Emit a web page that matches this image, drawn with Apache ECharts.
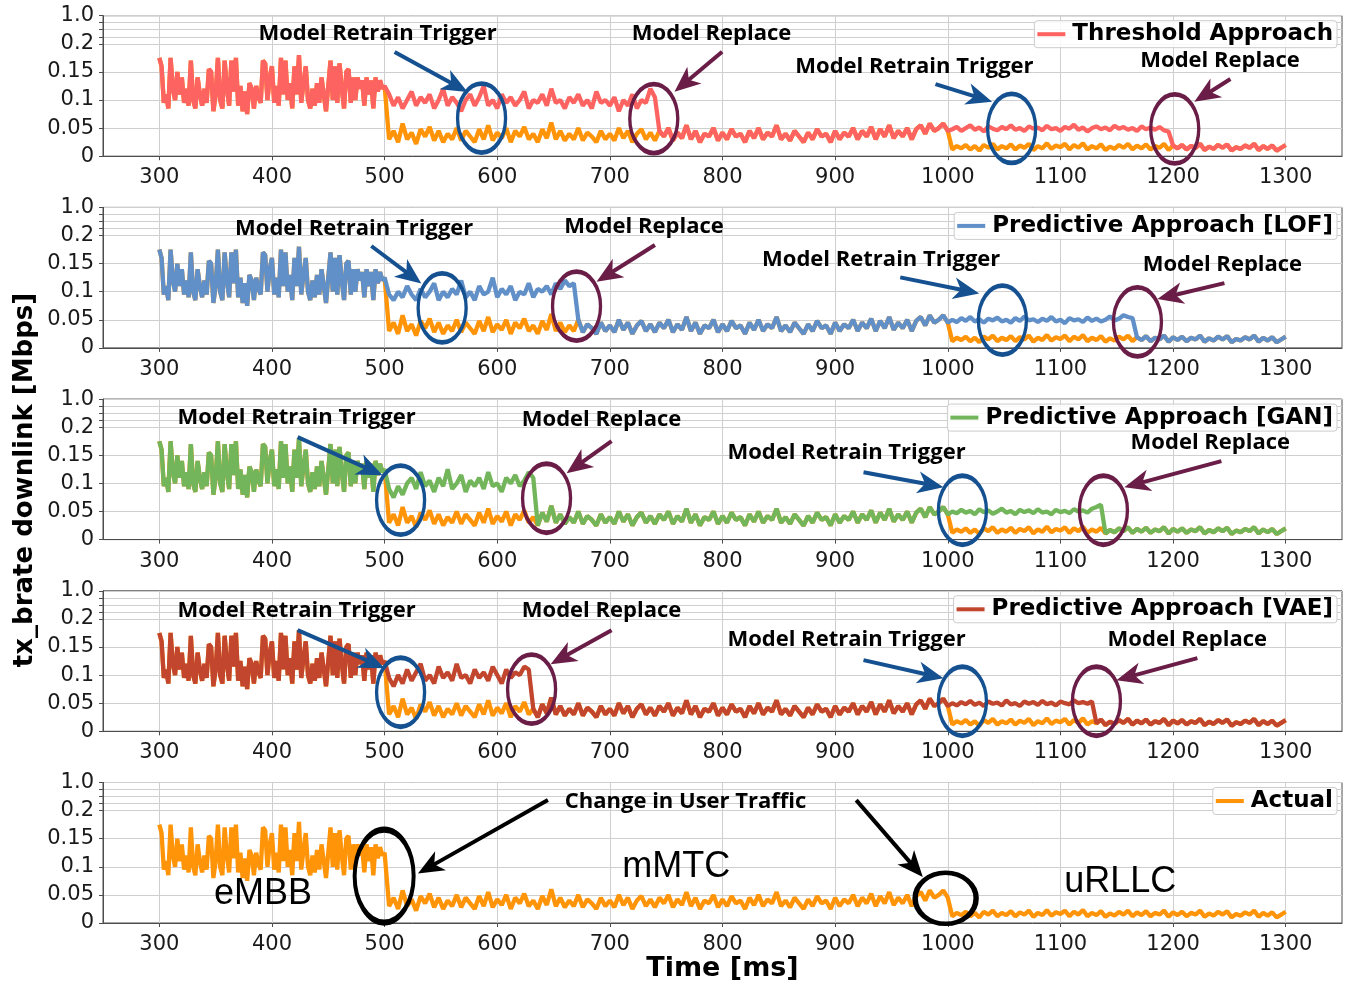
<!DOCTYPE html>
<html><head><meta charset="utf-8">
<script src="https://cdn.jsdelivr.net/npm/echarts@6/dist/echarts.min.js"></script>
<style>html,body{margin:0;padding:0;background:#fff}#c{width:1351px;height:984px}</style>
</head><body><div id="c"></div>
<script>
// ---------------- data ----------------
const xTickValues = [300, 400, 500, 600, 700, 800, 900, 1000, 1100, 1200, 1300];
// y axis: 0..0.2 linear, upper band compressed; 0.25 on axis = "1.0"
const yTickValues = [0, 0.05, 0.1, 0.15, 0.2, 0.2125, 0.225, 0.2375, 0.25];
const yLabelValues = [0, 0.05, 0.1, 0.15, 0.2, 0.25];

// Actual tx_brate, 300..500 ms every 2 ms (eMBB)
const embbStartMs = 300, embbStepMs = 2;
const actualEmbb = [
 0.175,0.160,0.095,0.110,0.085,0.175,0.120,0.100,0.150,0.110,
 0.140,0.095,0.120,0.090,0.170,0.100,0.085,0.140,0.110,0.090,
 0.120,0.095,0.155,0.150,0.080,0.110,0.175,0.100,0.085,0.170,
 0.120,0.090,0.170,0.115,0.175,0.090,0.125,0.080,0.115,0.075,
 0.130,0.120,0.085,0.125,0.105,0.095,0.170,0.165,0.100,0.140,
 0.160,0.095,0.125,0.090,0.175,0.110,0.170,0.100,0.130,0.085,
 0.160,0.110,0.180,0.095,0.130,0.160,0.100,0.085,0.120,0.090,
 0.130,0.095,0.140,0.110,0.080,0.125,0.170,0.100,0.160,0.095,
 0.165,0.120,0.085,0.150,0.155,0.095,0.140,0.100,0.140,0.120,
 0.135,0.090,0.140,0.110,0.135,0.085,0.140,0.115,0.135,0.120,
 0.125];
// 504..1000 ms every 4 ms (mMTC)
const mmtcStartMs = 504, restStepMs = 4;
const actualMmtc = [
 0.030,0.045,0.025,0.058,0.030,0.042,0.022,0.048,0.035,0.052,
 0.028,0.045,0.025,0.040,0.030,0.050,0.028,0.045,0.035,0.025,
 0.048,0.030,0.055,0.028,0.042,0.032,0.050,0.025,0.045,0.035,
 0.052,0.030,0.040,0.025,0.048,0.032,0.060,0.030,0.045,0.028,
 0.040,0.030,0.050,0.028,0.042,0.035,0.025,0.045,0.030,0.040,
 0.028,0.050,0.032,0.045,0.025,0.040,0.048,0.030,0.042,0.028,
 0.045,0.035,0.050,0.028,0.042,0.032,0.055,0.030,0.045,0.025,
 0.040,0.035,0.050,0.028,0.042,0.030,0.048,0.035,0.040,0.025,
 0.045,0.032,0.050,0.030,0.042,0.035,0.055,0.030,0.040,0.028,
 0.045,0.035,0.025,0.042,0.030,0.048,0.035,0.040,0.025,0.045,
 0.030,0.042,0.035,0.050,0.030,0.045,0.035,0.052,0.030,0.048,
 0.035,0.055,0.032,0.045,0.035,0.050,0.030,0.048,0.055,0.040,
 0.058,0.045,0.050,0.058,0.045];
// 1004..1300 ms every 4 ms (uRLLC)
const urllcStartMs = 1004;
const actualUrllc = [
 0.012,0.018,0.014,0.020,0.012,0.018,0.010,0.020,0.015,0.022,
 0.012,0.018,0.014,0.021,0.012,0.019,0.015,0.022,0.011,0.018,
 0.014,0.023,0.013,0.019,0.016,0.022,0.012,0.020,0.015,0.023,
 0.012,0.018,0.014,0.021,0.011,0.017,0.013,0.020,0.015,0.022,
 0.012,0.019,0.014,0.021,0.012,0.018,0.015,0.022,0.011,0.019,
 0.014,0.020,0.012,0.018,0.015,0.022,0.011,0.017,0.013,0.020,
 0.015,0.021,0.010,0.016,0.013,0.019,0.015,0.022,0.011,0.018,
 0.013,0.019,0.010,0.015,0.020];

// Predicted values where they differ from the actual traffic (every 4 ms)
const thresholdGap1 = [ // 504..740
 0.110,0.090,0.105,0.085,0.100,0.115,0.090,0.105,0.095,0.110,
 0.085,0.100,0.120,0.090,0.105,0.095,0.080,0.100,0.110,0.090,
 0.105,0.125,0.090,0.100,0.085,0.110,0.095,0.105,0.090,0.100,
 0.115,0.085,0.100,0.095,0.110,0.090,0.120,0.095,0.100,0.085,
 0.105,0.095,0.110,0.090,0.100,0.085,0.115,0.095,0.100,0.090,
 0.105,0.080,0.100,0.090,0.110,0.085,0.100,0.095,0.120,0.105];
const thresholdGap2 = [ // 1004..1196
 0.048,0.052,0.045,0.050,0.055,0.047,0.051,0.044,0.053,0.049,
 0.046,0.052,0.048,0.055,0.047,0.050,0.045,0.053,0.049,0.051,
 0.046,0.054,0.048,0.050,0.045,0.052,0.049,0.056,0.047,0.051,
 0.044,0.050,0.053,0.048,0.051,0.046,0.054,0.049,0.052,0.047,
 0.050,0.045,0.053,0.048,0.051,0.047,0.052,0.046,0.044];
const lofGap1 = [ // 504..668
 0.095,0.085,0.100,0.090,0.110,0.095,0.085,0.105,0.090,0.100,
 0.115,0.085,0.100,0.090,0.105,0.095,0.120,0.090,0.100,0.085,
 0.110,0.095,0.100,0.125,0.090,0.105,0.095,0.110,0.085,0.100,
 0.095,0.115,0.090,0.105,0.100,0.110,0.095,0.115,0.105,0.120,
 0.110,0.115];
const lofGap2 = [ // 1004..1164
 0.050,0.046,0.053,0.048,0.055,0.047,0.051,0.045,0.052,0.049,
 0.054,0.047,0.050,0.045,0.053,0.048,0.056,0.049,0.051,0.046,
 0.052,0.048,0.055,0.047,0.050,0.044,0.053,0.049,0.051,0.046,
 0.054,0.048,0.052,0.047,0.050,0.056,0.049,0.052,0.058,0.055,
 0.053];
const ganGap1 = [ // 504..632
 0.090,0.075,0.095,0.080,0.100,0.110,0.090,0.120,0.095,0.105,
 0.085,0.110,0.095,0.125,0.090,0.100,0.115,0.085,0.105,0.095,
 0.110,0.090,0.120,0.095,0.100,0.085,0.110,0.100,0.115,0.095,
 0.105,0.120,0.110];
const ganGap2 = [ // 1004..1136
 0.050,0.047,0.053,0.048,0.051,0.045,0.054,0.049,0.052,0.046,
 0.050,0.055,0.048,0.051,0.045,0.053,0.049,0.052,0.047,0.054,
 0.048,0.050,0.045,0.053,0.049,0.051,0.047,0.054,0.050,0.052,
 0.048,0.055,0.058,0.062];
const vaeGap1 = [ // 504..628
 0.095,0.080,0.100,0.085,0.110,0.090,0.105,0.120,0.090,0.100,
 0.085,0.115,0.095,0.105,0.090,0.120,0.095,0.100,0.085,0.110,
 0.095,0.105,0.090,0.115,0.100,0.085,0.110,0.095,0.105,0.100,
 0.115,0.110];
const vaeGap2 = [ // 1004..1128
 0.050,0.046,0.052,0.048,0.054,0.047,0.051,0.045,0.053,0.049,
 0.051,0.046,0.055,0.048,0.050,0.045,0.053,0.049,0.052,0.047,
 0.054,0.048,0.051,0.046,0.053,0.050,0.048,0.055,0.050,0.052,
 0.049,0.053];
const gapStartMs = [504, 1004];

const seriesNames = ['Threshold Approach', 'Predictive Approach [LOF]', 'Predictive Approach [GAN]', 'Predictive Approach [VAE]'];
const actualName = 'Actual';

// ---------------- build ----------------
const actualData = []
  .concat(actualEmbb.map((v, i) => [embbStartMs + i * embbStepMs, v]))
  .concat(actualMmtc.map((v, i) => [mmtcStartMs + i * restStepMs, v]))
  .concat(actualUrllc.map((v, i) => [urllcStartMs + i * restStepMs, v]));
function predicted(g1, g2) {
  return actualData.map(([t, v]) => {
    const i1 = (t - gapStartMs[0]) / restStepMs;
    const i2 = (t - gapStartMs[1]) / restStepMs;
    if (i1 >= 0 && i1 < g1.length && Number.isInteger(i1)) return [t, g1[i1]];
    if (i2 >= 0 && i2 < g2.length && Number.isInteger(i2)) return [t, g2[i2]];
    return [t, v];
  });
}
const predictedData = [
  predicted(thresholdGap1, thresholdGap2),
  predicted(lofGap1, lofGap2),
  predicted(ganGap1, ganGap2),
  predicted(vaeGap1, vaeGap2)
];

// ---------------- style / layout ----------------
const COLORS = ['#fd6461', '#618fc7', '#73b55b', '#c1462d'];
const ORANGE = '#ff9408';
const BLUE = '#155190', PURPLE = '#6a1d46', BLACK = '#000000';
const X_MIN = 250, X_MAX = 1350;
const GRID_LEFT = 103, GRID_W = 1239, GRID_H = 140.5, GRID_TOP0 = 15.7, GRID_STEP = 191.7;
const PXX = GRID_W / (X_MAX - X_MIN), PXY = GRID_H / 0.25;
const LINE_W = 4.3;
const ELLIPSE = 'path://M50,0 C77.6,0 100,22.4 100,50 C100,77.6 77.6,100 50,100 C22.4,100 0,77.6 0,50 C0,22.4 22.4,0 50,0 Z';
const HEAD = 'path://M50,0 L100,100 L50,72 L0,100 Z';

const annotations = [
  { texts: [['Model Retrain Trigger', 493.8, 0.2175], ['Model Replace', 790.3, 0.2175], ['Model Retrain Trigger', 970.4, 0.1586], ['Model Replace', 1241.7, 0.1693]],
    arrows: [[508.9, 0.1854, 573.7, 0.1141, BLUE], [799.7, 0.186, 757.4, 0.1146, PURPLE], [989.1, 0.1283, 1039.4, 0.0968, BLUE], [1250.9, 0.1373, 1218.9, 0.0968, PURPLE]],
    ellipses: [[586.1, 0.0677, BLUE], [739, 0.0668, PURPLE], [1056.7, 0.0494, BLUE], [1201.5, 0.0485, PURPLE]] },
  { texts: [['Model Retrain Trigger', 473, 0.2116], ['Model Replace', 730.3, 0.2152], ['Model Retrain Trigger', 940.9, 0.1563], ['Model Replace', 1243.8, 0.1474]],
    arrows: [[488.2, 0.1813, 532.6, 0.1148, BLUE], [740, 0.1831, 688.2, 0.1176, PURPLE], [957.8, 0.1255, 1027.9, 0.097, BLUE], [1245.6, 0.1153, 1186.1, 0.0868, PURPLE]],
    ellipses: [[551.1, 0.0711, BLUE], [670.4, 0.0743, PURPLE], [1048.5, 0.0494, BLUE], [1168.4, 0.0463, PURPLE]] },
  { texts: [['Model Retrain Trigger', 421.9, 0.2162], ['Model Replace', 692.6, 0.2127], ['Model Retrain Trigger', 910.1, 0.1539], ['Model Replace', 1233.1, 0.1717]],
    arrows: [[422.8, 0.1824, 498.2, 0.1146, BLUE], [701.5, 0.1753, 661.6, 0.1182, PURPLE], [925.2, 0.12, 996.2, 0.0932, BLUE], [1242.9, 0.1396, 1156.8, 0.0932, PURPLE]],
    ellipses: [[514.2, 0.0701, BLUE], [643.8, 0.0736, PURPLE], [1013, 0.0522, BLUE], [1138.2, 0.0522, PURPLE]] },
  { texts: [['Model Retrain Trigger', 421.9, 0.2139], ['Model Replace', 692.6, 0.2139], ['Model Retrain Trigger', 910.1, 0.1622], ['Model Replace', 1212.7, 0.1622]],
    arrows: [[422.8, 0.18, 500, 0.1123, BLUE], [701.5, 0.18, 647.4, 0.1194, PURPLE], [925.2, 0.1266, 996.2, 0.0945, BLUE], [1221.6, 0.1301, 1149.7, 0.0909, PURPLE]],
    ellipses: [[514.2, 0.0695, BLUE], [630.5, 0.0749, PURPLE], [1013, 0.0535, BLUE], [1132, 0.0535, PURPLE]] },
  { texts: [['Change in User Traffic', 767.2, 0.2152], ['eMBB', 392, 0.0512, 'big'], ['mMTC', 758.9, 0.0998, 'big'], ['uRLLC', 1153.2, 0.0725, 'big']],
    arrows: [[645, 0.2187, 529.6, 0.088, BLACK], [918.7, 0.2187, 977.8, 0.082, BLACK]],
    ellipses: [[499.6, 0.0836, BLACK, [59, 93], 5], [998.1, 0.044, BLACK, [61, 51], 5]] }
];

const HEAD_LEN = 26, HEAD_W = 22;
// arrow geometry: shaft ends inside the head; head centred half a length back from the tip
function arrowParts(a) {
  const [x1, y1, x2, y2, color] = a;
  const dx = (x2 - x1) * PXX, dy = (y2 - y1) * PXY;
  const len = Math.hypot(dx, dy);
  const fc = (len - HEAD_LEN / 2) / len;
  const fs = (len - HEAD_LEN * 0.6) / len;
  const angle = Math.atan2(dy, dx) * 180 / Math.PI - 90;
  return {
    line: [
      { coord: [x1, y1], lineStyle: { color, width: 4 } },
      { coord: [x1 + (x2 - x1) * fs, y1 + (y2 - y1) * fs] }
    ],
    head: { coord: [x1 + (x2 - x1) * fc, y1 + (y2 - y1) * fc], symbol: HEAD, symbolSize: [HEAD_W, HEAD_LEN],
      symbolRotate: angle, itemStyle: { color, borderWidth: 0 }, label: { show: false } }
  };
}
function markers(ann) {
  const points = [];
  ann.ellipses.forEach(e => points.push({
    coord: [e[0], e[1]], symbol: ELLIPSE, symbolSize: e[3] || [48, 69],
    itemStyle: { color: 'rgba(0,0,0,0)', borderColor: e[2], borderWidth: e[4] || 4 },
    label: { show: false }
  }));
  ann.texts.forEach(t => points.push({
    coord: [t[1], t[2]], symbol: 'rect', symbolSize: 1,
    itemStyle: { color: 'rgba(0,0,0,0)' },
    label: t[3] === 'big'
      ? { show: true, position: 'inside', formatter: t[0], color: '#000', fontFamily: 'Liberation Sans', fontSize: 36 }
      : { show: true, position: 'inside', formatter: t[0], color: '#000', fontFamily: 'Open Sans', fontWeight: 'bold', fontSize: 22 }
  }));
  const parts = ann.arrows.map(arrowParts);
  parts.forEach(p => points.push(p.head));
  return {
    markPoint: { silent: true, animation: false, z: 10, data: points },
    markLine: { silent: true, animation: false, z: 10, symbol: ['none', 'none'],
      label: { show: false }, lineStyle: { type: 'solid', width: 4 }, data: parts.map(p => p.line) }
  };
}

const grids = [], xAxes = [], yAxes = [], series = [], legends = [];
const tickFont = { fontFamily: 'DejaVu Sans', fontSize: 21, color: '#1a1a1a' };
for (let i = 0; i < 5; i++) {
  const top = GRID_TOP0 + GRID_STEP * i;
  grids.push({ left: GRID_LEFT, width: GRID_W, top, height: GRID_H, show: true, borderColor: '#4d4d4d', borderWidth: 1, backgroundColor: 'transparent', containLabel: false });
  xAxes.push({ type: 'value', gridIndex: i, min: X_MIN, max: X_MAX,
    axisLine: { show: true, lineStyle: { color: '#4d4d4d' } },
    axisTick: { show: true, length: 4, customValues: xTickValues, lineStyle: { color: '#4d4d4d' } },
    axisLabel: Object.assign({ customValues: xTickValues, margin: 11, formatter: v => String(v) }, tickFont),
    splitLine: { show: true, lineStyle: { color: '#cfcfcf', width: 1 } },
    name: i === 4 ? 'Time [ms]' : '', nameLocation: 'middle', nameGap: 32,
    nameTextStyle: { fontFamily: 'DejaVu Sans', fontWeight: 'bold', fontSize: 27, color: '#000' } });
  yAxes.push({ type: 'value', gridIndex: i, min: 0, max: 0.25,
    axisLine: { show: true, lineStyle: { color: '#4d4d4d' } },
    axisTick: { show: true, length: 4, customValues: yTickValues, lineStyle: { color: '#4d4d4d' } },
    axisLabel: Object.assign({ customValues: yLabelValues, margin: 9,
      formatter: v => (v > 0.249 ? '1.0' : String(+v.toFixed(3))) }, tickFont),
    splitLine: { show: true, lineStyle: { color: '#cfcfcf', width: 1 } } });
  const isActualPanel = i === 4;
  const actualSeries = { name: actualName, type: 'line', xAxisIndex: i, yAxisIndex: i, data: actualData,
    showSymbol: false, symbol: 'none', lineStyle: { color: ORANGE, width: LINE_W }, itemStyle: { color: ORANGE },
    animation: false, z: 2 };
  if (isActualPanel) {
    Object.assign(actualSeries, markers(annotations[i]));
    series.push(actualSeries);
  } else {
    series.push(actualSeries);
    series.push(Object.assign({ name: seriesNames[i], type: 'line', xAxisIndex: i, yAxisIndex: i, data: predictedData[i],
      showSymbol: false, symbol: 'none', lineStyle: { color: COLORS[i], width: LINE_W }, itemStyle: { color: COLORS[i] },
      animation: false, z: 3 }, markers(annotations[i])));
  }
  legends.push({ data: [isActualPanel ? actualName : seriesNames[i]], right: 14, top: top + 5,
    selectedMode: false, icon: 'rect', itemWidth: 28, itemHeight: 4, itemGap: 6,
    backgroundColor: 'rgba(255,255,255,0.85)', borderColor: '#cccccc', borderWidth: 1, borderRadius: 3,
    padding: [2, 4, 2, 3],
    textStyle: { fontFamily: 'DejaVu Sans', fontWeight: 'bold', fontSize: 23, color: '#000', padding: [0, 0, 0, 2] } });
}

const chart = echarts.init(document.getElementById('c'), null, { renderer: 'canvas' });
chart.setOption({
  animation: false,
  backgroundColor: '#fff',
  grid: grids, xAxis: xAxes, yAxis: yAxes, series, legend: legends,
  graphic: [{ type: 'text', x: 25, y: 480, rotation: Math.PI / 2,
    style: { text: 'tx_brate downlink [Mbps]', fontFamily: 'DejaVu Sans', fontWeight: 'bold', fontSize: 26, fill: '#000', textAlign: 'center', textVerticalAlign: 'middle' } }]
});
</script></body></html>
